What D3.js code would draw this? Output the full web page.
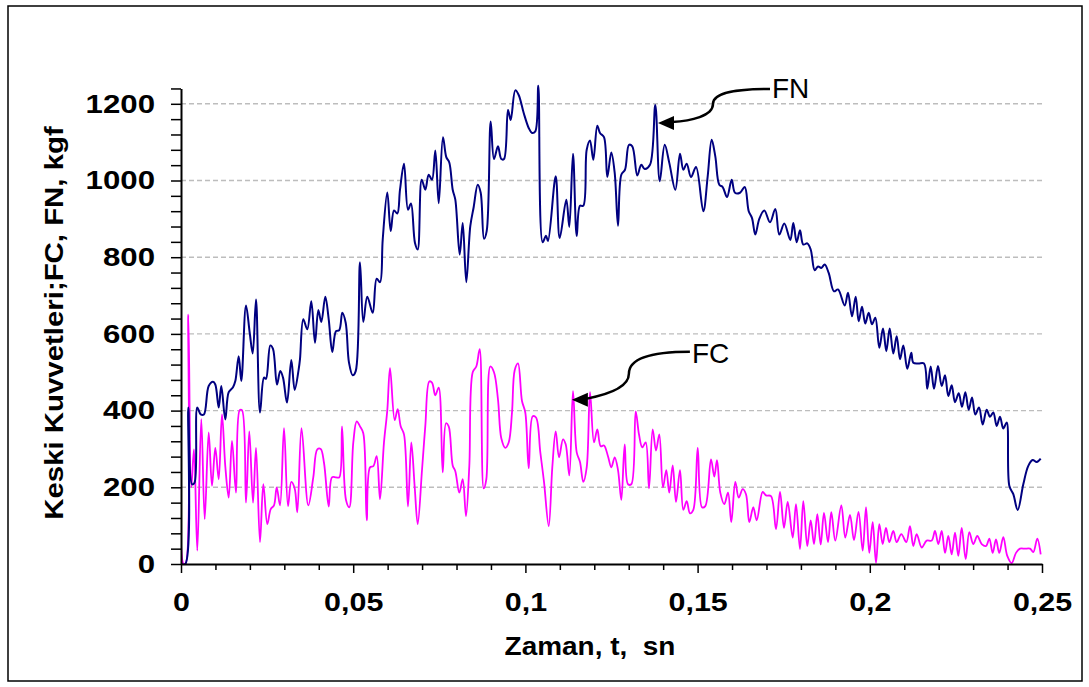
<!DOCTYPE html>
<html><head><meta charset="utf-8">
<script src="https://cdn.jsdelivr.net/npm/d3@7"></script>
<style>body{margin:0;background:#fff} svg{display:block} text{font-family:"Liberation Sans",Arial,sans-serif}</style>
</head><body><svg id="c" width="1089" height="687"></svg>
<script>
// FN series: [time (s), force (kgf)]
const fnData = [[0,0],[0.00125,0],[0.00212,408],[0.00319,208],[0.00392,212],[0.00473,408],[0.00572,390],[0.00665,390],[0.00804,464],[0.00929,475],[0.00996,468],[0.01095,408],[0.01170,464],[0.01286,377],[0.01385,448],[0.01510,461],[0.01577,477],[0.01675,542],[0.01751,477],[0.01887,674],[0.01995,603],[0.02082,549],[0.02178,690],[0.02294,395],[0.02410,486],[0.02468,483],[0.02593,570],[0.02671,561],[0.02787,468],[0.02883,503],[0.02962,486],[0.03078,421],[0.03203,532],[0.03301,454],[0.03418,508],[0.03455,534],[0.03551,638],[0.03667,612],[0.03783,685],[0.03891,577],[0.03987,662],[0.04074,631],[0.04190,697],[0.04289,638],[0.04393,553],[0.04501,607],[0.04596,610],[0.04683,655],[0.04782,629],[0.04878,525],[0.04985,492],[0.05073,503],[0.05197,787],[0.05293,631],[0.05409,697],[0.05566,655],[0.05682,744],[0.05778,735],[0.05857,846],[0.05990,969],[0.06089,868],[0.06185,922],[0.06281,914],[0.06359,976],[0.06475,1044],[0.06591,924],[0.06678,940],[0.06794,837],[0.06873,820],[0.06989,1002],[0.07094,976],[0.07192,1015],[0.07288,1002],[0.07384,1078],[0.07483,941],[0.07607,1113],[0.07703,1061],[0.07790,1047],[0.07889,976],[0.07965,950],[0.08092,807],[0.08180,889],[0.08284,735],[0.08400,881],[0.08499,931],[0.08615,989],[0.08702,968],[0.08798,848],[0.08876,868],[0.08992,1154],[0.09088,1056],[0.09204,1089],[0.09300,1056],[0.09379,1056],[0.09495,1184],[0.09573,1158],[0.09707,1235],[0.09805,1223],[0.09951,1176],[0.10096,1137],[0.10192,1124],[0.10287,1128],[0.10375,1247],[0.10502,839],[0.10598,856],[0.10656,842],[0.10880,1011],[0.10996,850],[0.11188,950],[0.11275,879],[0.11382,1070],[0.11490,855],[0.11585,934],[0.11681,934],[0.11780,1080],[0.11876,1104],[0.11972,1054],[0.12088,1143],[0.12166,1124],[0.12282,1113],[0.12378,1009],[0.12494,1073],[0.12593,1020],[0.12689,882],[0.12785,1015],[0.12892,1028],[0.13008,1093],[0.13104,1089],[0.13249,1013],[0.13365,1041],[0.13464,1030],[0.13618,1041],[0.13772,1197],[0.13900,998],[0.14045,1093],[0.14178,1046],[0.14353,976],[0.14489,1070],[0.14585,1028],[0.14683,1044],[0.14808,1009],[0.14954,1035],[0.15166,920],[0.15293,1011],[0.15409,1106],[0.15514,1063],[0.15630,989],[0.15729,983],[0.15854,957],[0.15990,1002],[0.16086,968],[0.16231,968],[0.16368,983],[0.16484,920],[0.16580,902],[0.16675,859],[0.16791,900],[0.16937,922],[0.17102,891],[0.17256,926],[0.17372,859],[0.17517,888],[0.17692,845],[0.17779,889],[0.17877,839],[0.17973,870],[0.18069,833],[0.18185,836],[0.18284,820],[0.18400,766],[0.18496,776],[0.18592,772],[0.18690,781],[0.18806,759],[0.18960,711],[0.19077,716],[0.19271,674],[0.19367,707],[0.19483,646],[0.19590,697],[0.19678,633],[0.19774,671],[0.19869,627],[0.19968,655],[0.20064,625],[0.20160,642],[0.20276,564],[0.20383,614],[0.20479,555],[0.20578,614],[0.20682,549],[0.20781,594],[0.20877,534],[0.20973,570],[0.21089,509],[0.21205,551],[0.21263,525],[0.21408,523],[0.21574,523],[0.21669,457],[0.21768,515],[0.21864,457],[0.21980,516],[0.22088,464],[0.22184,492],[0.22280,438],[0.22378,466],[0.22474,422],[0.22582,445],[0.22677,410],[0.22774,448],[0.22872,402],[0.22968,434],[0.23063,390],[0.23171,408],[0.23278,364],[0.23394,402],[0.23490,384],[0.23586,395],[0.23685,360],[0.23781,384],[0.23876,353],[0.23975,369],[0.24051,204],[0.24167,182],[0.24295,141],[0.24457,208],[0.24602,256],[0.24730,271],[0.24846,266],[0.24962,275]];

// FC series: [time (s), force (kgf)]
const fcData = [[0,395],[0.00073,0],[0.00131,0],[0.00212,650],[0.00299,200],[0.00377,299],[0.00473,35],[0.00589,378],[0.00688,117],[0.00804,343],[0.00900,204],[0.00996,303],[0.01095,221],[0.01190,390],[0.01286,255],[0.01385,173],[0.01481,321],[0.01597,186],[0.01704,401],[0.01771,401],[0.01887,160],[0.01983,346],[0.02091,160],[0.02178,303],[0.02294,57],[0.02390,208],[0.02506,104],[0.02605,143],[0.02700,153],[0.02779,200],[0.02875,153],[0.02991,354],[0.03107,151],[0.03203,214],[0.03301,197],[0.03377,135],[0.03499,354],[0.03696,153],[0.03841,226],[0.03958,299],[0.04056,300],[0.04152,264],[0.04289,150],[0.04384,226],[0.04501,226],[0.04596,226],[0.04675,359],[0.04791,167],[0.04887,148],[0.05003,317],[0.05102,372],[0.05197,359],[0.05293,341],[0.05392,114],[0.05488,252],[0.05584,255],[0.05682,281],[0.05778,169],[0.05894,317],[0.05990,401],[0.06069,511],[0.06205,375],[0.06292,404],[0.06379,359],[0.06475,338],[0.06591,150],[0.06687,317],[0.06786,200],[0.06873,104],[0.06998,245],[0.07094,360],[0.07210,476],[0.07288,473],[0.07384,440],[0.07483,460],[0.07599,239],[0.07695,367],[0.07773,359],[0.07889,257],[0.07965,242],[0.08081,186],[0.08180,221],[0.08275,125],[0.08371,255],[0.08470,500],[0.08574,515],[0.08673,560],[0.08789,197],[0.08865,221],[0.08981,515],[0.09088,500],[0.09204,429],[0.09300,328],[0.09416,303],[0.09515,317],[0.09611,395],[0.09689,505],[0.09785,523],[0.09901,425],[0.09997,395],[0.10096,250],[0.10212,385],[0.10308,382],[0.10433,291],[0.10540,214],[0.10677,99],[0.10781,252],[0.10880,346],[0.10976,278],[0.11092,325],[0.11170,312],[0.11275,231],[0.11382,451],[0.11490,291],[0.11585,266],[0.11681,214],[0.11780,252],[0.11876,448],[0.11992,317],[0.12088,351],[0.12187,307],[0.12282,309],[0.12398,281],[0.12494,252],[0.12593,278],[0.12689,245],[0.12785,167],[0.12883,312],[0.12979,208],[0.13075,208],[0.13203,398],[0.13298,338],[0.13394,304],[0.13493,317],[0.13589,197],[0.13696,351],[0.13792,296],[0.13888,338],[0.13995,200],[0.14091,245],[0.14178,186],[0.14277,257],[0.14373,162],[0.14489,245],[0.14585,141],[0.14683,164],[0.14779,132],[0.14875,141],[0.15003,303],[0.15128,148],[0.15224,151],[0.15389,273],[0.15485,228],[0.15563,271],[0.15659,186],[0.15775,156],[0.15883,186],[0.15978,109],[0.16095,214],[0.16193,173],[0.16310,195],[0.16405,182],[0.16501,109],[0.16617,148],[0.16716,114],[0.16890,188],[0.16986,179],[0.17131,177],[0.17276,91],[0.17393,188],[0.17509,94],[0.17616,162],[0.17762,69],[0.17857,156],[0.17973,39],[0.18069,164],[0.18185,47],[0.18284,114],[0.18380,52],[0.18476,130],[0.18574,51],[0.18670,133],[0.18786,57],[0.18882,135],[0.18998,61],[0.19173,153],[0.19288,69],[0.19425,128],[0.19541,62],[0.19672,136],[0.19794,35],[0.19890,148],[0.19985,29],[0.20084,109],[0.20180,3],[0.20276,104],[0.20374,52],[0.20470,94],[0.20566,57],[0.20682,86],[0.20781,57],[0.20915,78],[0.21060,57],[0.21167,99],[0.21263,47],[0.21362,78],[0.21507,43],[0.21652,61],[0.21797,61],[0.21893,86],[0.21989,52],[0.22088,86],[0.22184,29],[0.22280,73],[0.22378,25],[0.22474,82],[0.22570,21],[0.22668,94],[0.22784,13],[0.22889,83],[0.23005,52],[0.23121,73],[0.23249,52],[0.23374,47],[0.23470,66],[0.23569,29],[0.23664,64],[0.23760,29],[0.23876,70],[0.23992,21],[0.24120,2],[0.24245,29],[0.24361,40],[0.24506,40],[0.24652,40],[0.24747,31],[0.24863,66],[0.24962,25]];

const yMajorTicks = [0, 200, 400, 600, 800, 1000, 1200];
const xMajorTicks = [0, 0.05, 0.1, 0.15, 0.2, 0.25];
const xTickLabels = ["0", "0,05", "0,1", "0,15", "0,2", "0,25"];
const yTitle = "Keski Kuvvetleri;FC, FN, kgf";
const xTitle = "Zaman, t,  sn";
const fnLabel = "FN", fcLabel = "FC";
const fnArrowAt = [0.1385, 1150];
const fcArrowAt = [0.1135, 428];

const svg = d3.select("#c");
svg.append("rect").attr("x", 8).attr("y", 6).attr("width", 1074).attr("height", 675)
  .attr("fill", "#fff").attr("stroke", "#000").attr("stroke-width", 1.5);

const x = d3.scaleLinear().domain([0, 0.25]).range([181, 1042]);
const y = d3.scaleLinear().domain([0, 1240]).range([564, 564 - 1240 * 0.3835]);

// widen text horizontally (reference font is set wider than Arial)
function widen(sel, f) {
  sel.each(function () {
    const w = this.getComputedTextLength();
    if (w > 0) { this.setAttribute("textLength", w * f); this.setAttribute("lengthAdjust", "spacingAndGlyphs"); }
  });
}

// gridlines
svg.append("g").selectAll("line").data(yMajorTicks.filter(d => d > 0)).join("line")
  .attr("x1", x(0)).attr("x2", x(0.25)).attr("y1", d => y(d)).attr("y2", d => y(d))
  .attr("stroke", "#bdbdbd").attr("stroke-width", 1.4).attr("stroke-dasharray", "5,3");

// clip
svg.append("clipPath").attr("id", "clip").append("rect")
  .attr("x", x(0)).attr("y", y(1240) - 5).attr("width", x(0.25) - x(0) + 4).attr("height", y(0) - y(1240) + 6);

const line = d3.line().x(d => x(d[0])).y(d => y(d[1])).curve(d3.curveCatmullRom.alpha(0.5));
const plot = svg.append("g").attr("clip-path", "url(#clip)");
plot.append("path").datum(fcData).attr("d", line).attr("fill", "none")
  .attr("stroke", "#ff00ff").attr("stroke-width", 1.8).attr("stroke-linejoin", "round");
plot.append("path").datum(fnData).attr("d", line).attr("fill", "none")
  .attr("stroke", "#000080").attr("stroke-width", 2).attr("stroke-linejoin", "round");

// y axis
const yAxis = d3.axisLeft(y).tickValues(d3.range(0, 1241, 40)).tickSize(10).tickSizeOuter(0)
  .tickPadding(16).tickFormat(d => yMajorTicks.includes(d) ? String(d) : "");
const gy = svg.append("g").attr("transform", `translate(${x(0)},0)`).call(yAxis);
gy.select(".domain").attr("stroke-width", 2);
gy.selectAll(".tick line").attr("stroke-width", 1.5);
gy.selectAll(".tick text").attr("font-family", '"Liberation Sans",Arial,sans-serif')
  .attr("font-size", 26).attr("font-weight", "bold").attr("fill", "#000");
widen(gy.selectAll(".tick text"), 1.2);

// x axis
const xAxis = d3.axisBottom(x).tickValues(d3.range(0, 26).map(i => i / 100)).tickSize(6).tickSizeOuter(0)
  .tickFormat(d => { const i = xMajorTicks.findIndex(m => Math.abs(m - d) < 1e-9); return i >= 0 ? xTickLabels[i] : ""; });
const gx = svg.append("g").attr("transform", `translate(0,${y(0)})`).call(xAxis);
gx.select(".domain").attr("stroke-width", 2);
gx.selectAll(".tick line").attr("stroke-width", 1.5)
  .attr("y2", d => xMajorTicks.some(m => Math.abs(m - d) < 1e-9) ? 9 : 6);
gx.selectAll(".tick text").attr("font-family", '"Liberation Sans",Arial,sans-serif')
  .attr("font-size", 26).attr("font-weight", "bold").attr("fill", "#000").attr("y", 29).attr("dy", "0.71em");
widen(gx.selectAll(".tick text"), 1.17);

// axis titles
const yt = svg.append("text").attr("transform", "translate(63,323) rotate(-90)").attr("text-anchor", "middle")
  .attr("font-size", 26).attr("font-weight", "bold").text(yTitle);
widen(yt, 1.13);
const xt = svg.append("text").attr("x", 590).attr("y", 655).attr("text-anchor", "middle")
  .attr("font-size", 26).attr("font-weight", "bold").style("white-space", "pre").text(xTitle);
widen(xt, 1.075);

// annotations
function arrow(tx, ty, path, label, lx, ly) {
  svg.append("path").attr("d", path).attr("fill", "none").attr("stroke", "#000").attr("stroke-width", 2.5);
  svg.append("path").attr("d", `M${tx},${ty} L${tx + 16},${ty - 7} L${tx + 16},${ty + 7} Z`).attr("fill", "#000");
  svg.append("text").attr("x", lx).attr("y", ly).attr("font-size", 28).text(label);
}
{
  const tx = x(fnArrowAt[0]), ty = y(fnArrowAt[1]);
  arrow(tx, ty, `M${tx + 112},${ty - 34} C${tx + 80},${ty - 34} ${tx + 55},${ty - 31} ${tx + 55},${ty - 19} C${tx + 55},${ty - 7} ${tx + 33},${ty - 2} ${tx + 14},${ty - 1}`,
    fnLabel, tx + 114, ty - 25);
}
{
  const tx = x(fcArrowAt[0]), ty = y(fcArrowAt[1]);
  arrow(tx, ty, `M${tx + 118},${ty - 48} C${tx + 80},${ty - 48} ${tx + 57},${ty - 42} ${tx + 57},${ty - 26} C${tx + 57},${ty - 12} ${tx + 35},${ty - 5} ${tx + 14},${ty - 1}`,
    fcLabel, tx + 120, ty - 37);
}
</script></body></html>
